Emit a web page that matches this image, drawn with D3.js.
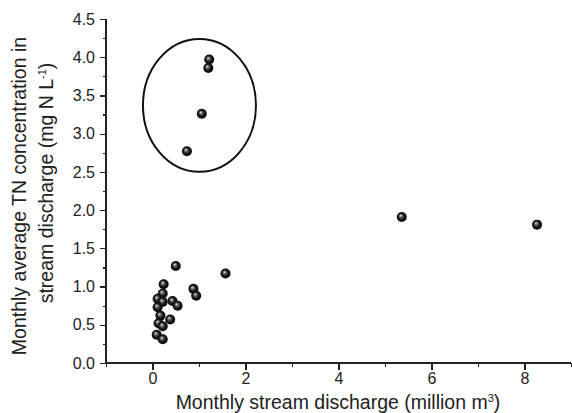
<!DOCTYPE html>
<meta charset="utf-8">
<head>
<style>
body { margin: 0; background: #fff; font-family: "Liberation Sans", Arial, sans-serif; }
.axis path, .axis line { stroke: #222; stroke-width: 1.3px; fill: none; shape-rendering: crispEdges; }
.axis text { font-family: "Liberation Sans", Arial, sans-serif; font-size: 16px; fill: #222; }
.title { font-size: 19.5px; fill: #222; }
</style>
<script src="https://d3js.org/d3.v7.min.js"></script>
</head>
<body>
<div id="chart"></div>
<script>

// monthly stream discharge (million m3) and monthly TN concentration (mg N/L)
var discharge = [0.50, 0.24, 0.88, 0.94, 0.22, 0.11, 0.22, 0.43, 0.54, 0.11, 0.17, 0.38, 0.13, 0.22, 0.09, 0.22,
                 1.57, 5.36, 8.27, 1.22, 1.20, 1.06, 0.74];
var tnConc    = [1.27, 1.03, 0.97, 0.88, 0.91, 0.84, 0.80, 0.81, 0.75, 0.73, 0.62, 0.57, 0.52, 0.48, 0.37, 0.31,
                 1.17, 1.91, 1.81, 3.97, 3.86, 3.26, 2.77];
// ellipse around the high concentration group: centre and radii in data units
var ellipseCenter = [1.01, 3.37];
var ellipseRadius = [1.215, 0.868];

var xTicks = [0, 2, 4, 6, 8];
var yTicks = [0.0, 0.5, 1.0, 1.5, 2.0, 2.5, 3.0, 3.5, 4.0, 4.5];

var W = 572, H = 413;
var margin = {top: 19, right: 1, bottom: 50, left: 106};

var svg = d3.select("#chart").append("svg")
  .attr("width", W).attr("height", H);

var x = d3.scaleLinear().domain([-1, 9]).range([margin.left, W - margin.right]);
var y = d3.scaleLinear().domain([0, 4.5]).range([H - margin.bottom, margin.top]);

var defs = svg.append("defs");
var grad = defs.append("radialGradient").attr("id", "ball")
  .attr("cx", "50%").attr("cy", "50%").attr("r", "55%")
  .attr("fx", "38%").attr("fy", "35%");
grad.append("stop").attr("offset", "0%").attr("stop-color", "#f4f4f4");
grad.append("stop").attr("offset", "22%").attr("stop-color", "#777");
grad.append("stop").attr("offset", "55%").attr("stop-color", "#1a1a1a");
grad.append("stop").attr("offset", "100%").attr("stop-color", "#000");

// minor ticks
svg.append("g").attr("class", "axis")
  .attr("transform", "translate(0," + y(0) + ")")
  .call(d3.axisBottom(x).tickValues(d3.range(-1, 10, 1)).tickSize(4).tickFormat(""));
svg.append("g").attr("class", "axis")
  .attr("transform", "translate(" + x(-1) + ",0)")
  .call(d3.axisLeft(y).tickValues(d3.range(0, 4.51, 0.25)).tickSize(3).tickFormat(""));

// major ticks
var xg = svg.append("g").attr("class", "axis")
  .attr("transform", "translate(0," + y(0) + ")")
  .call(d3.axisBottom(x).tickValues(xTicks).tickSize(7).tickPadding(3).tickFormat(d3.format("d")));
var yg = svg.append("g").attr("class", "axis")
  .attr("transform", "translate(" + x(-1) + ",0)")
  .call(d3.axisLeft(y).tickValues(yTicks).tickSize(6).tickPadding(5).tickFormat(d3.format(".1f")));
xg.select(".domain").attr("d", "M" + x(-1) + ",0H" + x(9));
yg.select(".domain").attr("d", "M0," + y(0) + "V" + y(4.5));

// axis titles
var xt = svg.append("text").attr("class", "title")
  .attr("x", 338).attr("y", 409).attr("text-anchor", "middle");
xt.append("tspan").text("Monthly stream discharge (million m");
xt.append("tspan").attr("dy", -7).style("font-size", "11px").text("3");
xt.append("tspan").attr("dy", 7).text(")");

var yt = svg.append("text").attr("class", "title")
  .attr("transform", "translate(26,196) rotate(-90)")
  .attr("text-anchor", "middle");
yt.append("tspan").attr("x", 0).attr("y", 0).text("Monthly average TN concentration in");
var l2 = svg.append("text").attr("class", "title")
  .attr("transform", "translate(53,183) rotate(-90)")
  .attr("text-anchor", "middle");
l2.append("tspan").text("stream discharge (mg N L");
l2.append("tspan").attr("dy", -7).style("font-size", "11px").text("-1");
l2.append("tspan").attr("dy", 7).text(")");

// ellipse
svg.append("ellipse")
  .attr("cx", x(ellipseCenter[0])).attr("cy", y(ellipseCenter[1]))
  .attr("rx", x(ellipseCenter[0] + ellipseRadius[0]) - x(ellipseCenter[0]))
  .attr("ry", y(ellipseCenter[1] - ellipseRadius[1]) - y(ellipseCenter[1]))
  .attr("fill", "none").attr("stroke", "#111").attr("stroke-width", 2);

// points
svg.selectAll("circle.pt")
  .data(discharge.map(function(d, i) { return {q: d, tn: tnConc[i]}; }))
  .enter().append("circle")
    .attr("class", "pt")
    .attr("cx", function(d) { return x(d.q); })
    .attr("cy", function(d) { return y(d.tn); })
    .attr("r", 5)
    .attr("fill", "url(#ball)");

</script>
</body>
</html>
